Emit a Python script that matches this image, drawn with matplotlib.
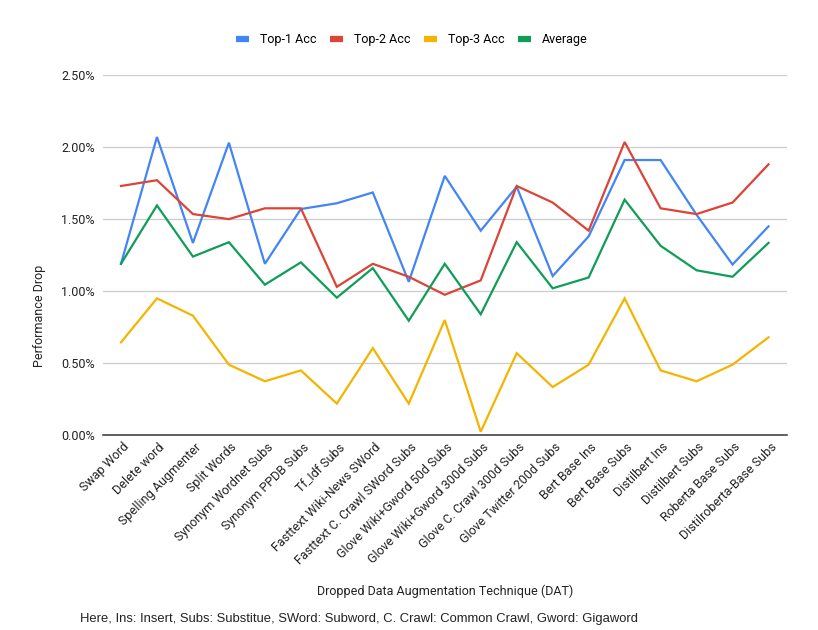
import numpy as np
import matplotlib
matplotlib.use("Agg")
from matplotlib import pyplot as plt
from matplotlib.ticker import FuncFormatter
import matplotlib.transforms as mtransforms

techniques = ["Swap Word", "Delete word", "Spelling Augmenter", "Split Words",
              "Synonym Wordnet Subs", "Synonym PPDB Subs", "Tf_Idf Subs",
              "Fasttext Wiki-News SWord", "Fasttext C. Crawl SWord Subs",
              "Glove Wiki+Gword 50d Subs", "Glove Wiki+Gword 300d Subs",
              "Glove C. Crawl 300d Subs", "Glove Twitter 200d Subs",
              "Bert Base Ins", "Bert Base Subs", "Distilbert Ins",
              "Distilbert Subs", "Roberta Base Subs", "Distilroberta-Base Subs"]

top1 = [1.19, 2.07, 1.335, 2.03, 1.19, 1.57, 1.61, 1.685, 1.065, 1.80,
        1.42, 1.725, 1.105, 1.38, 1.91, 1.91, 1.53, 1.185, 1.45]
top2 = [1.73, 1.77, 1.535, 1.50, 1.575, 1.575, 1.03, 1.19, 1.10, 0.975,
        1.075, 1.73, 1.615, 1.42, 2.035, 1.575, 1.535, 1.615, 1.88]
top3 = [0.645, 0.95, 0.83, 0.49, 0.375, 0.45, 0.22, 0.605, 0.22, 0.80,
        0.025, 0.57, 0.335, 0.49, 0.95, 0.45, 0.375, 0.49, 0.68]
average = [1.19, 1.595, 1.24, 1.34, 1.045, 1.20, 0.955, 1.16, 0.795, 1.19,
           0.84, 1.34, 1.02, 1.095, 1.635, 1.315, 1.145, 1.10, 1.335]

series = [("Top-1 Acc", top1, "#4285F4"),
          ("Top-2 Acc", top2, "#DB4437"),
          ("Top-3 Acc", top3, "#F4B400"),
          ("Average", average, "#0F9D58")]

plt.rcParams['font.family'] = ['Roboto', 'DejaVu Sans']

fig = plt.figure(figsize=(8.18, 6.30), dpi=100)
ax = fig.add_axes([103 / 818, 1 - 435.3 / 630, 683.5 / 818, 360.3 / 630])

x = np.arange(len(techniques))
for name, vals, col in series:
    ax.plot(x, vals, color=col, linewidth=1.6, label=name, solid_joinstyle='miter')

ax.set_xlim(-0.5, len(techniques) - 0.5)
ax.set_ylim(0, 2.5)
ax.set_yticks(np.arange(0, 2.51, 0.5))
ax.yaxis.set_major_formatter(FuncFormatter(lambda v, p: "%.2f%%" % v))
ax.grid(axis='y', color='#cccccc', linewidth=0.9)
ax.set_axisbelow(True)
for s in ["top", "right", "left"]:
    ax.spines[s].set_visible(False)
ax.spines["bottom"].set_color("#333333")
ax.spines["bottom"].set_linewidth(1.1)
ax.tick_params(axis='both', length=0, labelsize=9, labelcolor='#222222')
ax.tick_params(axis='y', pad=6)

ax.set_xticks(x)
ax.set_xticklabels(techniques, rotation=45, ha='right', va='center',
                   rotation_mode='anchor')
offset = mtransforms.ScaledTranslation(6 / 100, -5 / 100, fig.dpi_scale_trans)
for lab in ax.get_xticklabels():
    lab.set_transform(lab.get_transform() + offset)

fig.text(40 / 818, 1 - 316 / 630, "Performance Drop", rotation=90,
         ha='center', va='center', fontsize=9, color='#222222')
fig.text(445 / 818, 1 - 591 / 630, "Dropped Data Augmentation Technique (DAT)",
         ha='center', va='center', fontsize=9, color='#222222')
fig.text(80 / 818, 1 - 619 / 630,
         "Here, Ins: Insert, Subs: Substitue, SWord: Subword, C. Crawl: Common Crawl, Gword: Gigaword",
         ha='left', va='center', fontsize=9.35, color='#222222',
         family=['Liberation Sans', 'DejaVu Sans'])

leg = fig.legend(loc='center', bbox_to_anchor=(412 / 818, 1 - 40 / 630), ncol=4,
                 frameon=False, fontsize=9, handlelength=1.0, handletextpad=0.9,
                 columnspacing=1.1)
for h in leg.get_lines():
    h.set_linewidth(4.5)
    h.set_solid_capstyle('butt')

fig.savefig("out.png", dpi=100)
